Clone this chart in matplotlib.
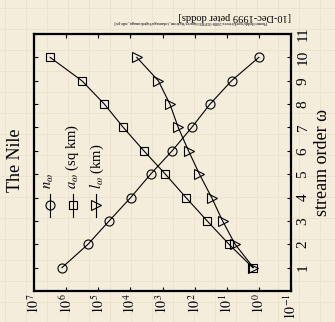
import matplotlib
matplotlib.use("Agg")
import matplotlib.pyplot as plt
import numpy as np
from matplotlib.lines import Line2D

plt.rcParams['font.family'] = ['Liberation Serif', 'DejaVu Serif']
plt.rcParams['mathtext.fontset'] = 'stix'

# Data (log10 values)
orders = [1, 2, 3, 4, 5, 6, 7, 8, 9, 10]
n_log = [6.13, 5.32, 4.66, 3.99, 3.37, 2.70, 2.09, 1.52, 0.85, 0.0]
a_log = [0.19, 0.93, 1.61, 2.27, 2.91, 3.58, 4.22, 4.81, 5.51, 6.50]
l_log = [0.17, 0.74, 1.13, 1.47, 1.85, 2.19, 2.51, 2.77, 3.13, 3.80]
series_labels = [r'$n_\omega$', r'$a_\omega$ (sq km)', r'$l_\omega$ (km)']
xtick_exps = [7, 6, 5, 4, 3, 2, 1, 0, -1]
ytick_vals = [1, 2, 3, 4, 5, 6, 7, 8, 9, 10, 11]

bg = '#f4eddc'
fig = plt.figure(figsize=(3.35, 3.22), dpi=100, facecolor=bg)

# paper texture grid
bgax = fig.add_axes([0, 0, 1, 1], zorder=-10)
bgax.set_facecolor(bg)
bgax.set_xlim(0, 335); bgax.set_ylim(322, 0)
for gx in np.arange(5, 335, 21):
    bgax.axvline(gx, color='#ebe2cd', lw=0.6)
for gy in np.arange(8, 322, 21):
    bgax.axhline(gy, color='#ebe2cd', lw=0.6)
bgax.axis('off')

ax = fig.add_axes([34/335, 31/322, 257/335, 257/322])
ax.set_facecolor('none')

vals = [np.power(10.0, n_log), np.power(10.0, a_log), np.power(10.0, l_log)]
markers = ['o', 's', '>']
msizes = [6.5, 5.5, 7]
for v, m, ms in zip(vals, markers, msizes):
    ax.plot(v, orders, color='black', lw=0.8, marker=m, ms=ms,
            mfc='none', mec='black', mew=0.8)

ax.set_xscale('log')
ax.set_xlim(1e7, 1e-1)
ax.set_ylim(0, 11)
ax.set_xticks([10.0**e for e in xtick_exps])
ax.set_xticklabels([r'$10^{%d}$' % e for e in xtick_exps])
ax.set_yticks(ytick_vals)
ax.set_yticklabels([str(t) for t in ytick_vals])
ax.yaxis.tick_right()
ax.yaxis.set_label_position('right')
ax.tick_params(axis='both', which='both', direction='in', top=True, bottom=True,
               left=True, right=True, labelleft=False, labelright=True)
ax.tick_params(axis='both', which='major', length=3, width=0.8, labelsize=11)
ax.tick_params(axis='x', which='major', labelsize=10)
ax.tick_params(axis='x', which='minor', length=1.5, width=0.5)
ax.tick_params(axis='x', labelrotation=90, pad=2)
ax.tick_params(axis='y', labelrotation=90, pad=4)
for lab in ax.get_yticklabels():
    lab.set_va('center')
for s in ax.spines.values():
    s.set_linewidth(1.6)

ax.set_ylabel('stream order ω', fontsize=13, rotation=90, labelpad=3)

# legend drawn manually (rotated layout)
leg_x = [0.062, 0.150, 0.243]
for xi, m, ms, lab in zip(leg_x, markers, msizes, series_labels):
    ax.add_line(Line2D([xi, xi], [0.288, 0.378], transform=ax.transAxes,
                       color='black', lw=0.8))
    ax.add_line(Line2D([xi], [0.333], transform=ax.transAxes, marker=m, ms=ms,
                       mfc='none', mec='black', mew=0.8, color='black'))
    ax.text(xi, 0.395, lab, transform=ax.transAxes, rotation=90,
            ha='center', va='bottom', fontsize=10.5)

fig.text(15/335, 1 - 160/322, 'The Nile', rotation=90, ha='center', va='center',
         fontsize=13)
fig.text(235/335, 1 - 16/322, '[10-Dec-1999 peter dodds]', rotation=180,
         ha='center', va='center', fontsize=7.5)
fig.text(190/335, 1 - 22/322,
         '[/home/dodds/work/rivers/2000-01PRE/figures/figfrom_tokunaga/figtokunaga_nile.ps]',
         rotation=180, ha='center', va='center', fontsize=3.2)

fig.savefig('out.png', dpi=100, facecolor=bg)
